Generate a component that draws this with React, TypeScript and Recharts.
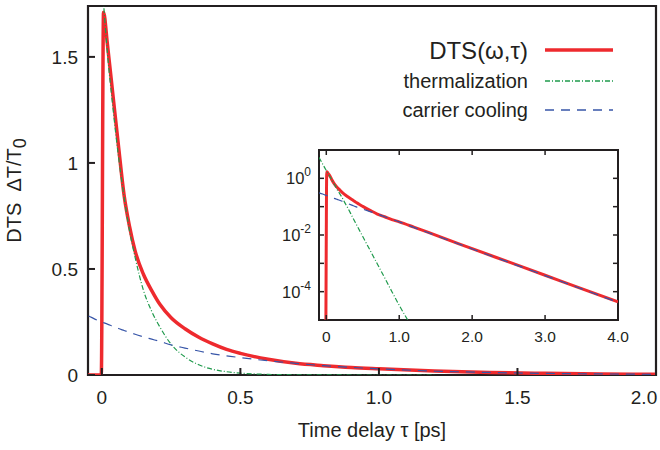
import { LineChart, Line, XAxis, YAxis, Legend, Label, ReferenceArea } from 'recharts';

const FONT = '"Liberation Sans", Arial, Helvetica, sans-serif';
const INK = '#231f20';

// time grid (ps) shared by both panels
const times = [
  -0.1, -0.05, -0.01, -0.002, 0.006, 0.02, 0.04, 0.06, 0.08, 0.1, 0.12, 0.15, 0.18, 0.21, 0.25, 0.3, 0.35,
  0.4, 0.45, 0.5, 0.6, 0.7, 0.8, 0.9, 1.0, 1.2, 1.4, 1.6, 1.8, 2.0, 2.5, 3.0, 3.5, 4.0,
];
const dtsValues = [
  1e-9, 1e-8, 1e-7, 0.001, 1.71, 1.56, 1.32, 1.08, 0.85, 0.7, 0.585, 0.475, 0.398, 0.332, 0.27, 0.218, 0.178,
  0.147, 0.121, 0.102, 0.074, 0.055, 0.044, 0.035, 0.029, 0.019, 0.0123, 0.0079, 0.0051, 0.0033, 0.00112,
  0.00038, 0.000128, 4.4e-5,
];
const thermalization = [
  5.5, 3.2, 2.1, 1.94, 1.76, 1.52, 1.26, 1.03, 0.84, 0.68, 0.555, 0.4, 0.3, 0.225, 0.145, 0.085, 0.048, 0.027,
  0.0155, 0.0088, 0.0029, 0.00095, 0.00031, 0.0001, 3.3e-5, 4.5e-6, null, null, null, null, null, null, null,
  null,
];
const carrierCooling = [
  0.31, 0.28, 0.255, 0.251, 0.247, 0.24, 0.229, 0.219, 0.21, 0.201, 0.192, 0.18, 0.169, 0.158, 0.142, 0.127,
  0.113, 0.1, 0.09, 0.082, 0.067, 0.055, 0.044, 0.036, 0.029, 0.0185, 0.012, 0.0077, 0.005, 0.0032, 0.00109,
  0.00037, 0.000125, 4.2e-5,
];

const mainXTicks = [0, 0.5, 1, 1.5, 2];
const mainXLabels = ['0', '0.5', '1.0', '1.5', '2.0'];
const mainYTicks = [0, 0.5, 1, 1.5];
const mainYLabels = ['0', '0.5', '1', '1.5'];
const insetXTicks = [0, 1, 2, 3, 4];
const insetXLabels = ['0', '1.0', '2.0', '3.0', '4.0'];
const insetYTicks = [1, 0.1, 0.01, 0.001, 0.0001];
const insetYExponents = ['0', '', '-2', '', '-4'];

const SERIES = [
  { key: 'dts', name: 'DTS(ω,τ)', color: '#ee2a2e', width: 3.5, dash: undefined as string | undefined, size: 24 },
  { key: 'thermal', name: 'thermalization', color: '#1f9a4c', width: 1.2, dash: '5 2 1 2', size: 20 },
  { key: 'cooling', name: 'carrier cooling', color: '#3755a8', width: 1.2, dash: '9 7', size: 20 },
];

const rows = times.map((t, i) => ({
  t,
  dts: dtsValues[i],
  thermal: thermalization[i],
  cooling: carrierCooling[i],
}));

const MainXTick = ({ x, y, payload }: any) => {
  const i = mainXTicks.indexOf(payload.value);
  const last = i === mainXTicks.length - 1;
  return (
    <text x={last ? Number(x) - 12 : x} y={y} dy={21} textAnchor="middle" fontSize={19} fill={INK} fontFamily={FONT}>
      {mainXLabels[i]}
    </text>
  );
};

const MainYTick = ({ x, y, payload }: any) => {
  const i = mainYTicks.indexOf(payload.value);
  return (
    <text x={x} y={y} dy={7} textAnchor="end" fontSize={19} fill={INK} fontFamily={FONT}>
      {mainYLabels[i]}
    </text>
  );
};

const InsetXTick = ({ x, y, payload }: any) => {
  const i = insetXTicks.indexOf(payload.value);
  return (
    <text x={x} y={y} dy={14} textAnchor="middle" fontSize={15.5} fill={INK} fontFamily={FONT}>
      {insetXLabels[i]}
    </text>
  );
};

const InsetYTick = ({ x, y, payload }: any) => {
  const i = insetYTicks.indexOf(payload.value);
  const exp = insetYExponents[i];
  if (!exp) return <g />;
  return (
    <text x={x} y={y} dy={6} textAnchor="end" fontSize={16.5} fill={INK} fontFamily={FONT}>
      10
      <tspan dy={-8} fontSize={12}>
        {exp}
      </tspan>
    </text>
  );
};

const NoLabel = () => <g />;

const legendRowY = [20, 51, 80];

const LegendBox = () => (
  <svg width={240} height={100}>
    {SERIES.map((s, i) => (
      <g key={s.key}>
        <text
          x={133}
          y={legendRowY[i]}
          dy={s.size * 0.36}
          textAnchor="end"
          fontSize={s.size}
          fill={INK}
          fontFamily={FONT}
        >
          {s.name}
        </text>
        <path
          d={`M150,${legendRowY[i]}H218`}
          stroke={s.color}
          strokeWidth={s.key === 'dts' ? 3.5 : 1.5}
          strokeDasharray={s.dash}
          fill="none"
        />
      </g>
    ))}
  </svg>
);

const tickStroke = { stroke: INK, strokeWidth: 2 };
const insetTickStroke = { stroke: INK, strokeWidth: 1.5 };

export default function App() {
  return (
    <div style={{ position: 'absolute', left: 0, top: 0, width: 660, height: 450, background: '#fff' }}>
      <div style={{ position: 'absolute', left: 0, top: 0 }}>
        <LineChart width={660} height={450} data={rows} margin={{ top: 6, right: 4, bottom: 35, left: 28 }}>
          <XAxis
            dataKey="t"
            type="number"
            domain={[-0.05, 2]}
            allowDataOverflow
            ticks={mainXTicks}
            interval={0}
            height={40}
            tickSize={-7}
            tickMargin={15}
            tickLine={tickStroke}
            axisLine={false}
            tick={MainXTick}
          >
            <Label
              content={({ viewBox }: any) => (
                <text
                  x={viewBox.x + viewBox.width / 2}
                  y={viewBox.y + 62}
                  textAnchor="middle"
                  fontSize={20}
                  fill={INK}
                  fontFamily={FONT}
                >
                  Time delay τ [ps]
                </text>
              )}
            />
          </XAxis>
          <YAxis
            type="number"
            domain={[0, 1.74]}
            allowDataOverflow
            ticks={mainYTicks}
            interval={0}
            width={60}
            tickSize={-7}
            tickMargin={17}
            tickLine={tickStroke}
            axisLine={false}
            tick={MainYTick}
          >
            <Label
              content={({ viewBox }: any) => {
                const cx = viewBox.x - 7;
                const cy = viewBox.y + viewBox.height / 2;
                return (
                  <text
                    x={cx}
                    y={cy}
                    transform={`rotate(-90 ${cx} ${cy})`}
                    textAnchor="middle"
                    fontSize={20}
                    fill={INK}
                    fontFamily={FONT}
                    style={{ whiteSpace: 'pre' }}
                  >
                    {'DTS  ΔT/T'}
                    <tspan dy={5} fontSize={18}>
                      0
                    </tspan>
                  </text>
                );
              }}
            />
          </YAxis>
          {SERIES.map((s) => (
            <Line
              key={s.key}
              dataKey={s.key}
              name={s.name}
              type="monotone"
              stroke={s.color}
              strokeWidth={s.width}
              strokeDasharray={s.dash}
              dot={false}
              activeDot={false}
              isAnimationActive={false}
            />
          ))}
          <ReferenceArea x1={-0.05} x2={2} y1={0} y2={1.74} fill="none" stroke={INK} strokeWidth={2.2} />
          <Legend
            layout="vertical"
            align="center"
            verticalAlign="middle"
            content={LegendBox}
            wrapperStyle={{ left: 395, top: 30, width: 240, height: 100 }}
          />
        </LineChart>
      </div>
      <div style={{ position: 'absolute', left: 260, top: 140 }}>
        <LineChart width={370} height={215} data={rows} margin={{ top: 9, right: 11, bottom: 5, left: 9 }}>
          <XAxis
            dataKey="t"
            type="number"
            domain={[-0.1, 4]}
            allowDataOverflow
            ticks={insetXTicks}
            interval={0}
            height={30}
            tickSize={-5}
            tickMargin={13}
            tickLine={insetTickStroke}
            axisLine={false}
            tick={InsetXTick}
          />
          <XAxis
            xAxisId="top"
            orientation="top"
            dataKey="t"
            type="number"
            domain={[-0.1, 4]}
            allowDataOverflow
            ticks={insetXTicks}
            interval={0}
            height={1}
            tickSize={-5}
            tickMargin={0}
            tickLine={insetTickStroke}
            axisLine={false}
            tick={NoLabel}
          />
          <YAxis
            type="number"
            scale="log"
            domain={[1e-5, 10]}
            allowDataOverflow
            ticks={insetYTicks}
            interval={0}
            width={50}
            tickSize={-5}
            tickMargin={13}
            tickLine={insetTickStroke}
            axisLine={false}
            tick={InsetYTick}
          />
          <YAxis
            yAxisId="right"
            orientation="right"
            type="number"
            scale="log"
            domain={[1e-5, 10]}
            allowDataOverflow
            ticks={insetYTicks}
            interval={0}
            width={1}
            tickSize={-5}
            tickMargin={0}
            tickLine={insetTickStroke}
            axisLine={false}
            tick={NoLabel}
          />
          {SERIES.map((s) => (
            <Line
              key={s.key}
              dataKey={s.key}
              name={s.name}
              type="monotone"
              stroke={s.color}
              strokeWidth={s.key === 'dts' ? 3 : s.width}
              strokeDasharray={s.dash}
              dot={false}
              activeDot={false}
              legendType="none"
              isAnimationActive={false}
            />
          ))}
          <ReferenceArea x1={-0.1} x2={4} y1={1e-5} y2={10} fill="none" stroke={INK} strokeWidth={2} />
        </LineChart>
      </div>
    </div>
  );
}
